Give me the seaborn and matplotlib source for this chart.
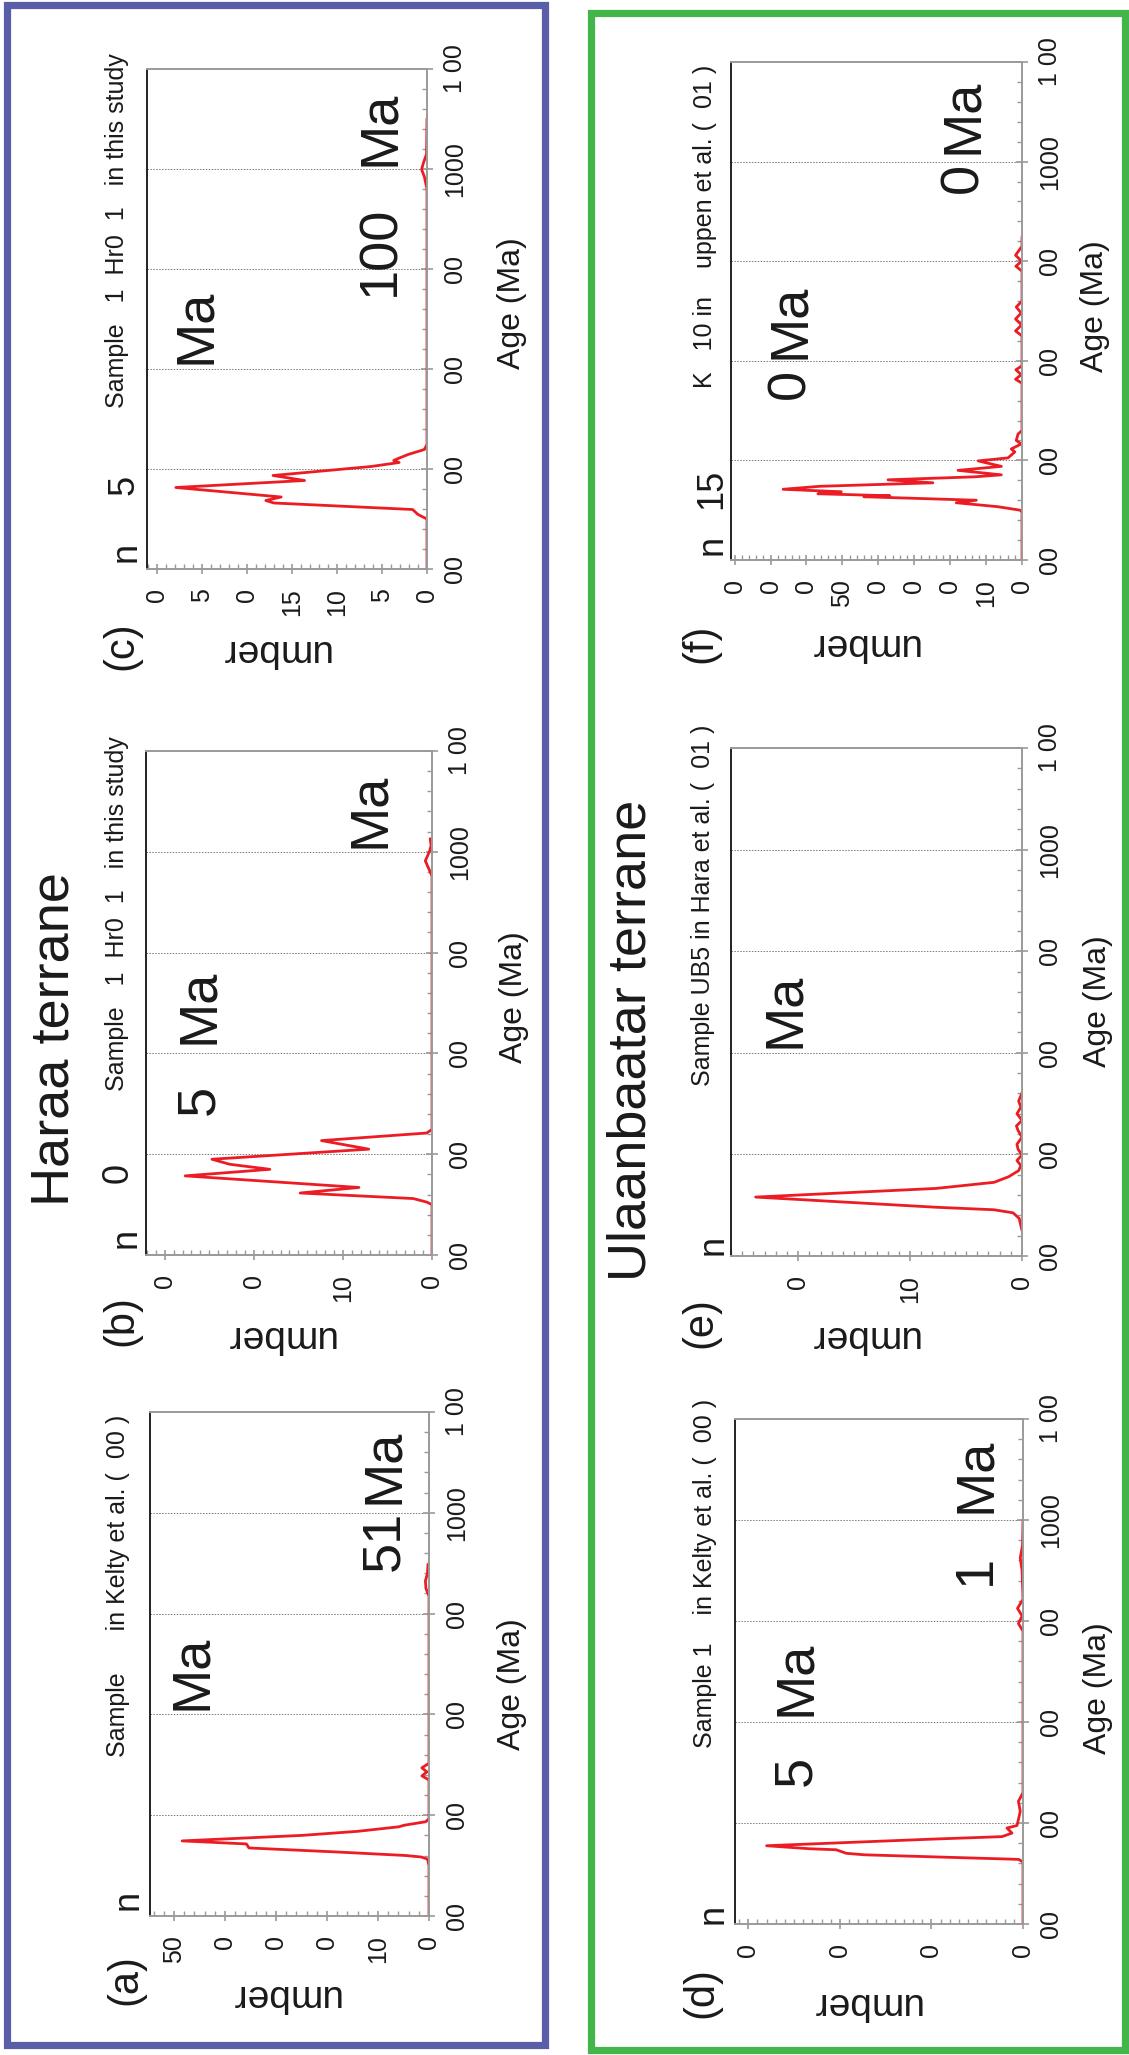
import matplotlib
matplotlib.use('Agg')
import matplotlib.pyplot as plt
import seaborn as sns
import pandas as pd
from matplotlib.patches import Rectangle
from matplotlib.ticker import MultipleLocator

sns.set_style('white')
plt.rcParams['font.family'] = ['Liberation Sans', 'DejaVu Sans']

# ---------------- data ----------------
age_ticks = [200, 400, 600, 800, 1000, 1200]
age_tick_labels = ['00', '00', '00', '00', '1000', '1 00']

# (a) Haraa terrane, Kelty et al.
ages_a = [200, 300, 313, 317, 320, 327, 335, 343, 349, 360, 368, 377, 380, 384, 387, 393,
          460, 470, 478, 486, 494, 503, 520, 835, 850, 865, 880, 898]
num_a = [0, 0, 0.3, 1.5, 4.5, 18, 35.3, 35.8, 48.4, 24.8, 14, 5.9, 4.9, 2.5, 0.65, 0,
         0, 0, 1.4, 0.4, 1.4, 0, 0, 0, 0.6, 0.7, 0.3, 0.2]
nticks_a = [0, 10, 20, 30, 40, 50]
nlabels_a = ['0', '10', '0', '0', '0', '50']

# (b) Haraa terrane, this study
ages_b = [200, 300, 305, 312, 323, 334, 357, 370, 380, 390, 410, 427, 442, 449,
          940, 952, 968, 982, 1000, 1012, 1026]
num_b = [0, 0, 0.6, 2.1, 14.8, 8.2, 27.7, 18.2, 22.7, 24.7, 7.1, 12.4, 0.6, 0,
         0, 0, 0.4, 0.75, 0.3, 0.1, 0.2]
nticks_b = [0, 10, 20, 30]
nlabels_b = ['0', '10', '0', '0']

# (c) Haraa terrane, this study
ages_c = [200, 300, 309, 319, 332, 337, 344, 363, 377, 387, 405, 413, 417, 421, 429, 439, 449,
          960, 985, 999, 1012, 1030, 1101]
num_c = [0, 0, 1.0, 1.6, 17.0, 17.9, 16.2, 27.9, 13.6, 17.1, 6.2, 3.1, 3.7, 3.2, 2.1, 0.3, 0,
         0, 0.3, 0.6, 0.4, 0.05, 0]
nticks_c = [0, 5, 10, 15, 20, 25, 30]
nlabels_c = ['0', '5', '10', '15', '0', '5', '0']

# (d) Ulaanbaatar terrane, Kelty et al.
ages_d = [200, 323, 328, 337, 340, 347, 349, 355, 368, 373, 380, 390, 395, 407, 423, 443, 460,
          780, 795, 810, 825, 843, 900, 925, 950, 1000]
num_d = [0, 0, 0.5, 17.3, 19.3, 20.4, 23.3, 28.0, 10.0, 2.3, 1.2, 1.75, 0.66, 0.5, 0.3, 0.5, 0,
         0, 0.5, 0.1, 0.6, 0, 0.1, 0.3, 0.05, 0]
nticks_d = [0, 10, 20, 30]
nlabels_d = ['0', '0', '0', '0']

# (e) Ulaanbaatar terrane, Hara et al.
ages_e = [250, 274, 285, 291, 296, 316, 333, 345, 356, 368, 378, 388, 399, 410, 420, 434,
          447, 456, 467, 480, 493, 505, 521]
num_e = [0, 0.25, 0.8, 2.5, 7.7, 23.8, 7.7, 2.5, 1.2, 0.3, 0.1, 0.45, 0.0, 0.35, 0.45, 0.0,
         0.35, 0.5, 0.0, 0.45, 0.1, 0.3, 0.0]
nticks_e = [0, 10, 20]
nlabels_e = ['0', '10', '0']

# (f) Ulaanbaatar terrane, Kuppen et al.
ages_f = [200, 296, 300, 307, 315, 320, 327, 329, 333, 337, 342, 348, 349, 355, 361, 367, 371,
          380, 388, 399, 405, 417, 423, 433, 440, 453, 460, 555, 563, 572, 582, 590, 650, 660,
          672, 684, 696, 708, 720, 780, 790, 800, 812, 830, 849]
num_f = [0, 0, 0.5, 6.7, 18.3, 12.7, 44.0, 36.8, 56.8, 50.3, 66.5, 56.3, 51.7, 24.8, 37.3, 13.2,
         5.75, 17.8, 5.75, 12.2, 3.9, 2.0, 3.0, 0.2, 1.6, 1.1, 0, 0, 1.8, 0.2, 1.7, 0, 0, 1.8,
         0.1, 1.8, 0.2, 1.6, 0, 0, 1.7, 0.1, 1.8, 0, 0]
nticks_f = [0, 10, 20, 30, 40, 50, 60, 70, 80]
nlabels_f = ['0', '10', '0', '0', '0', '50', '0', '0', '0']

titles = {
    'a': 'Sample      in Kelty et al. (  00 )',
    'b': 'Sample   1  Hr0  1   in this study',
    'c': 'Sample   1  Hr0  1   in this study',
    'd': 'Sample 1    in Kelty et al. (  00 )',
    'e': 'Sample UB5 in Hara et al. (  01 )',
    'f': 'K   10 in    uppen et al. (  01 )',
}
terranes = ['Haraa terrane', 'Ulaanbaatar terrane']

# ---------------- layout ----------------
W, H = 1129, 2055
fig = plt.figure(figsize=(W / 100, H / 100), dpi=100)
RED = '#ec1c24'
GRAY = '#9a9a9a'
INK = '#1a1a1a'


def fx(px):
    return px / W


def fy(py):
    return 1 - py / H


def ftext(x, y, s, size, **kw):
    kw.setdefault('ha', 'center')
    kw.setdefault('va', 'center')
    fig.text(fx(x), fy(y), s, fontsize=size, rotation=90, color=INK, **kw)


# boxes
fig.add_artist(Rectangle((fx(7), fy(2045)), fx(545) - fx(7), fy(5) - fy(2045),
                         transform=fig.transFigure, fill=False, ec='#5a5ea9', lw=5.2))
fig.add_artist(Rectangle((fx(591), fy(2050)), fx(1125) - fx(591), fy(13) - fy(2050),
                         transform=fig.transFigure, fill=False, ec='#43b649', lw=5.2))

panels = [
    dict(k='c', ages=ages_c, nums=num_c, box=(147, 69, 427, 569), xmax=31.1, nt=nticks_c, nl=nlabels_c,
         minor=1, age_lab=(512, 303), num_lab=(274, 650), plab=(121, 646), title=(117, 408)),
    dict(k='b', ages=ages_b, nums=num_b, box=(146, 751, 432, 1255), xmax=32.1, nt=nticks_b, nl=nlabels_b,
         minor=1, age_lab=(514, 997), num_lab=(279, 1336), plab=(121, 1321), title=(117, 1091)),
    dict(k='a', ages=ages_a, nums=num_a, box=(150, 1412, 429, 1916), xmax=54.7, nt=nticks_a, nl=nlabels_a,
         minor=2, age_lab=(512, 1684), num_lab=(284, 1995), plab=(125, 1980), title=(118, 1757)),
    dict(k='f', ages=ages_f, nums=num_f, box=(731, 62, 1022, 560), xmax=81.0, nt=nticks_f, nl=nlabels_f,
         minor=2, age_lab=(1095, 306), num_lab=(863, 644), plab=(700, 643), title=(705, 388)),
    dict(k='e', ages=ages_e, nums=num_e, box=(731, 748, 1022, 1256), xmax=26.0, nt=nticks_e, nl=nlabels_e,
         minor=1, age_lab=(1098, 1001), num_lab=(863, 1336), plab=(700, 1323), title=(703, 1086)),
    dict(k='d', ages=ages_d, nums=num_d, box=(735, 1419, 1023, 1924), xmax=31.45, nt=nticks_d, nl=nlabels_d,
         minor=1, age_lab=(1098, 1688), num_lab=(865, 2003), plab=(701, 1993), title=(705, 1748)),
]

for p in panels:
    x0, y0, x1, y1 = p['box']
    ax = fig.add_axes([fx(x0), fy(y1), (x1 - x0) / W, (y1 - y0) / H])
    df = pd.DataFrame({'Age': p['ages'], 'Number': p['nums']})
    sns.lineplot(data=df, x='Number', y='Age', orient='y', sort=False, estimator=None,
                 color=RED, lw=2.0, ax=ax)
    ax.set_xlim(p['xmax'], 0)
    ax.set_ylim(200, 1200)
    ax.set_facecolor('white')

    ax.yaxis.tick_right()
    ax.set_yticks(age_ticks)
    ax.set_yticklabels(age_tick_labels, rotation=90, va='center')
    ax.yaxis.set_minor_locator(MultipleLocator(40))
    ax.set_xticks(p['nt'])
    ax.set_xticklabels(p['nl'], rotation=90, va='top', ha='center')
    ax.xaxis.set_minor_locator(MultipleLocator(p['minor']))

    ax.tick_params(axis='y', which='major', direction='inout', length=9, width=1.2, color=GRAY,
                   pad=7, labelsize=18, labelcolor=INK, right=True, left=False)
    ax.tick_params(axis='y', which='minor', direction='in', length=3.3, width=1.0, color=GRAY,
                   right=True, left=False)
    ax.tick_params(axis='x', which='major', direction='inout', length=7, width=1.2, color=GRAY,
                   pad=10, labelsize=18, labelcolor=INK, bottom=True, top=False)
    ax.tick_params(axis='x', which='minor', direction='in', length=3.6, width=1.0, color=GRAY,
                   bottom=True, top=False)

    ax.grid(False)
    for a in [400, 600, 800, 1000]:
        ax.axhline(a, color='#7a7a7a', lw=0.7, ls=(0, (1.5, 1.5)), zorder=0)

    for side in ['top', 'right', 'bottom']:
        ax.spines[side].set_color(GRAY)
        ax.spines[side].set_linewidth(1.4)
    ax.spines['left'].set_color('#222222')
    ax.spines['left'].set_linewidth(1.4)

    ax.set_ylabel('Age (Ma)', fontsize=23, rotation=90, color=INK)
    ax.yaxis.set_label_position('right')
    lx, ly = p['age_lab']
    ax.yaxis.set_label_coords((lx - x0) / (x1 - x0), (y1 - ly) / (y1 - y0))
    ax.yaxis.label.set_va('center')
    ax.yaxis.label.set_ha('center')

    ax.set_xlabel('umber', fontsize=28, rotation=180, color=INK)
    nx, ny = p['num_lab']
    ax.xaxis.set_label_coords((nx - x0) / (x1 - x0), (y1 - ny) / (y1 - y0))
    ax.xaxis.label.set_va('center')
    ax.xaxis.label.set_ha('center')

    ftext(p['plab'][0], p['plab'][1], '(' + p['k'] + ')', 30)
    ftext(p['title'][0], p['title'][1], titles[p['k']], 18, va='bottom')

# terrane titles
ftext(55, 1039, terranes[0], 39)
ftext(632, 1040, terranes[1], 39)

# sample-size labels
small = [(126, 552, 'n'), (124, 485, '5'), (126, 1238, 'n'), (118, 1173, '0'), (128, 1900, 'n'),
         (712, 545, 'n'), (712, 489, '15'), (713, 1245, 'n'), (713, 1914, 'n')]
for x, y, s in small:
    ftext(x, y, s, 26)

# large peak annotations
big = [(196, 326, 'Ma'), (380, 251, '100'), (380, 128, 'Ma'),
       (199, 1100, '5'), (199, 1006, 'Ma'), (370, 810, 'Ma'),
       (192, 1672, 'Ma'), (384, 1541, '51'), (384, 1466, 'Ma'),
       (790, 384, '0'), (790, 321, 'Ma'), (963, 178, '0'), (963, 116, 'Ma'),
       (785, 1010, 'Ma'),
       (796, 1771, '5'), (796, 1678, 'Ma'), (976, 1570, '1'), (976, 1475, 'Ma')]
for x, y, s in big:
    ftext(x, y, s, 39)

fig.savefig('out.png', dpi=100, facecolor='white')
